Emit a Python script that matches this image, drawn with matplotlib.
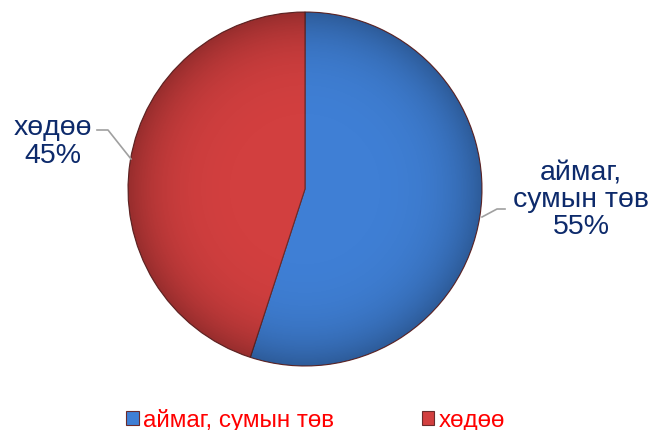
import numpy as np
import matplotlib
matplotlib.use("Agg")
import matplotlib.pyplot as plt
from matplotlib.patches import Circle

# data
labels = ["аймаг, сумын төв", "хөдөө"]
pie_labels = ["аймаг,\nсумын төв\n55%", "хөдөө\n45%"]
values = [55, 45]
colors = ["#3F7FD5", "#D23F3F"]

plt.rcParams['font.family'] = ['Liberation Sans', 'DejaVu Sans']

W, H = 654, 431
fig = plt.figure(figsize=(W / 100, H / 100), dpi=100)
ax = fig.add_axes([0, 0, 1, 1])

cx, cy, R = 305, H - 190, 177
wedges, _ = ax.pie(values, colors=colors, startangle=90, counterclock=False,
                   center=(cx, cy), radius=R, frame=True,
                   wedgeprops=dict(edgecolor='#6b2b2b', linewidth=0.8))
ax.set_xlim(0, W)
ax.set_ylim(0, H)
ax.set_aspect('equal')
ax.axis('off')

# soft shading towards the rim
n = 300
yy, xx = np.mgrid[-1:1:n * 1j, -1:1:n * 1j]
rr = np.sqrt(xx ** 2 + yy ** 2)
shade = np.zeros((n, n, 4))
shade[..., 3] = np.clip(0.28 * rr ** 5, 0, 0.3)
im = ax.imshow(shade, extent=(cx - R, cx + R, cy - R, cy + R), zorder=3)
im.set_clip_path(Circle((cx, cy), R, transform=ax.transData))

# labels with leader lines
navy = '#0D2A6B'
ax.text(581, H - 200, pie_labels[0], ha='center', va='center', fontsize=20.5,
        color=navy, linespacing=1.05, multialignment='center')
ax.plot([505, 497, 482], [H - 210, H - 210, H - 218], color='#A0A0A0', lw=1.2, zorder=4)
ax.text(53, H - 142, pie_labels[1], ha='center', va='center', fontsize=20.5,
        color=navy, linespacing=1.1, multialignment='center')
ax.plot([97, 108, 131], [H - 131, H - 131, H - 160], color='#A0A0A0', lw=1.2, zorder=4)

leg = fig.legend(wedges, labels, loc='center', bbox_to_anchor=(0.483, 1 - 421 / H),
                 ncol=2, frameon=False, fontsize=17.5, labelcolor='red',
                 handlelength=0.5, handleheight=0.5, handletextpad=0.2,
                 columnspacing=3.6)

fig.savefig("out.png", dpi=100)
